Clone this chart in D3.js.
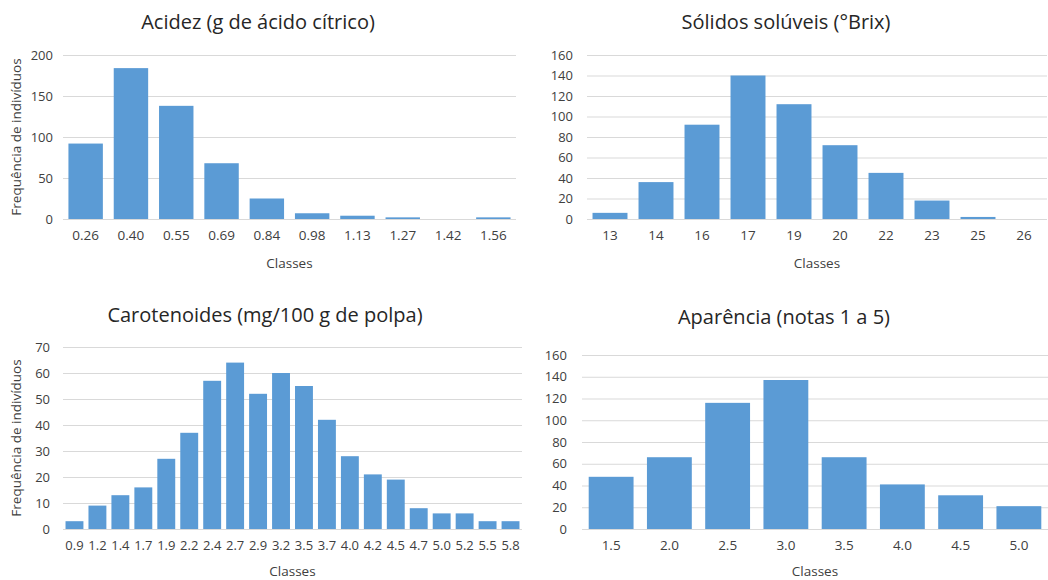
<!DOCTYPE html>
<html>
<head>
<meta charset="utf-8">
<script src="https://cdn.jsdelivr.net/npm/d3@7"></script>
<style>
  body { margin: 0; background: #fff; }
  text { font-family: "Open Sans", "Noto Sans", sans-serif; }
</style>
</head>
<body>
<svg id="chart" width="1048" height="580"></svg>
<script>
// acidez
var acidezClasses = ["0.26", "0.40", "0.55", "0.69", "0.84", "0.98", "1.13", "1.27", "1.42", "1.56"];
var acidezFreq = [92, 184, 138, 68, 25, 7, 4, 2, 0, 2];
var acidezTicks = [0, 50, 100, 150, 200];

// solidos soluveis
var brixClasses = ["13", "14", "16", "17", "19", "20", "22", "23", "25", "26"];
var brixFreq = [6, 36, 92, 140, 112, 72, 45, 18, 2, 0];
var brixTicks = [0, 20, 40, 60, 80, 100, 120, 140, 160];

// carotenoides
var carotClasses = ["0.9", "1.2", "1.4", "1.7", "1.9", "2.2", "2.4", "2.7", "2.9", "3.2",
                    "3.5", "3.7", "4.0", "4.2", "4.5", "4.7", "5.0", "5.2", "5.5", "5.8"];
var carotFreq = [3, 9, 13, 16, 27, 37, 57, 64, 52, 60, 55, 42, 28, 21, 19, 8, 6, 6, 3, 3];
var carotTicks = [0, 10, 20, 30, 40, 50, 60, 70];

// aparencia
var aparClasses = ["1.5", "2.0", "2.5", "3.0", "3.5", "4.0", "4.5", "5.0"];
var aparFreq = [48, 66, 116, 137, 66, 41, 31, 21];
var aparTicks = [0, 20, 40, 60, 80, 100, 120, 140, 160];

var svg = d3.select("#chart");
var barColor = "#5b9bd5";
var gridColor = "#d9d9d9";
var txtColor = "#404040";

function panel(opt) {
    var g = svg.append("g");
    var x = d3.scaleBand()
              .domain(opt.classes)
              .range([opt.left, opt.right])
              .paddingInner(opt.pad)
              .paddingOuter(opt.pad / 2);
    var y = d3.scaleLinear()
              .domain([0, d3.max(opt.ticks)])
              .range([opt.bottom, opt.top]);

    // grid + y labels
    var yAxis = g.append("g")
        .attr("transform", `translate(${opt.left},0)`)
        .call(d3.axisLeft(y).tickValues(opt.ticks).tickSize(-(opt.right - opt.left)).tickPadding(opt.ypad));
    yAxis.select(".domain").remove();
    yAxis.selectAll("line").attr("stroke", gridColor);
    yAxis.selectAll("text").attr("fill", txtColor).style("font-size", "13px");

    g.selectAll(".bar")
        .data(opt.values)
        .enter()
        .append("rect")
        .attr("class", "bar")
        .attr("x", (d, i) => x(opt.classes[i]))
        .attr("y", d => y(d))
        .attr("width", x.bandwidth())
        .attr("height", d => opt.bottom - y(d))
        .attr("fill", barColor);

    var xAxis = g.append("g")
        .attr("transform", `translate(0,${opt.bottom})`)
        .call(d3.axisBottom(x).tickSize(0).tickPadding(opt.xpad));
    xAxis.select(".domain").remove();
    xAxis.selectAll("text").attr("fill", txtColor).style("font-size", opt.xfont || "13.5px");

    g.append("text")
        .attr("x", opt.titleX)
        .attr("y", opt.titleY)
        .attr("text-anchor", "middle")
        .attr("fill", "#262626")
        .style("font-size", "20px")
        .text(opt.title);

    g.append("text")
        .attr("x", (opt.left + opt.right) / 2)
        .attr("y", opt.classesY)
        .attr("text-anchor", "middle")
        .attr("fill", txtColor)
        .style("font-size", "13.5px")
        .text("Classes");

    if (opt.ylabel) {
        g.append("text")
            .attr("transform", `translate(21,${(opt.top + opt.bottom) / 2}) rotate(-90)`)
            .attr("text-anchor", "middle")
            .attr("fill", txtColor)
            .style("font-size", "13.5px")
            .text(opt.ylabel);
    }
}

panel({
    title: "Acidez (g de ácido cítrico)", titleX: 258, titleY: 29,
    classes: acidezClasses, values: acidezFreq, ticks: acidezTicks,
    left: 63, right: 516, top: 55, bottom: 219, pad: 0.24,
    ypad: 10, xpad: 11, classesY: 268,
    ylabel: "Frequência de indivíduos"
});

panel({
    title: "Sólidos solúveis (°Brix)", titleX: 786, titleY: 29,
    classes: brixClasses, values: brixFreq, ticks: brixTicks,
    left: 587, right: 1047, top: 55, bottom: 219, pad: 0.24,
    ypad: 14, xpad: 11, classesY: 268
});

panel({
    title: "Carotenoides (mg/100 g de polpa)", titleX: 265, titleY: 322,
    classes: carotClasses, values: carotFreq, ticks: carotTicks,
    left: 63, right: 522, top: 347, bottom: 529, pad: 0.22,
    ypad: 13, xpad: 12, classesY: 576, xfont: "13px",
    ylabel: "Frequência de indivíduos"
});

panel({
    title: "Aparência (notas 1 a 5)", titleX: 784, titleY: 324,
    classes: aparClasses, values: aparFreq, ticks: aparTicks,
    left: 582, right: 1048, top: 355, bottom: 529, pad: 0.23,
    ypad: 15, xpad: 11, classesY: 576
});
</script>
</body>
</html>
